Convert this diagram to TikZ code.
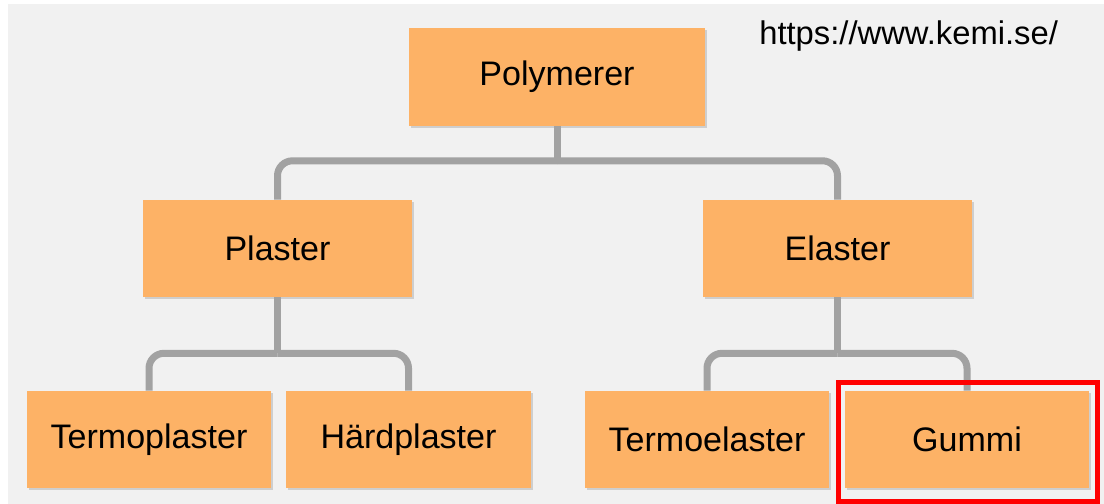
\documentclass[tikz,border=0pt]{standalone}
\usepackage{fontspec}
\setmainfont{Liberation Sans}
\usetikzlibrary{shadows, calc, positioning}
\definecolor{boxorange}{RGB}{253,178,102}
\definecolor{linkgrey}{RGB}{162,162,162}
\definecolor{panelgrey}{RGB}{241,241,241}
\tikzstyle{box} = [fill=boxorange, text=black, inner sep=0pt, minimum height=2.425cm,
  font=\fontsize{24.2}{28}\selectfont,
  drop shadow={shadow xshift=0.05cm, shadow yshift=-0.05cm, opacity=0.3}]
\tikzstyle{link} = [draw=linkgrey, line width=0.175cm, rounded corners=0.375cm]
\tikzstyle{marker} = [draw=red, line width=0.125cm]

\begin{document}
\begin{tikzpicture}[x=0.025cm, y=-0.025cm]
  % Background panel
  \useasboundingbox (0,0) rectangle (1104,504);
  \fill[panelgrey] (8,4) rectangle (1104,504);

  % Source address
  \node[anchor=base west, inner sep=0pt, font=\fontsize{23.3}{26}\selectfont] (url) at (759,45) {https://www.kemi.se/};

  % Draw the top box
  \node[box, minimum width=7.375cm] (poly) at (557,77) {Polymerer};

  % Draw the second level
  \node[box, minimum width=6.725cm] (plaster) at (277.5,248.5) {Plaster};
  \node[box, minimum width=6.725cm] (elaster) at (837.5,248.5) {Elaster};

  % Draw the bottom level
  \node[box, minimum width=6.1cm] (termopl) at (149,439.5) {Termoplaster};
  \node[box, minimum width=6.1cm] (hardpl) at (408.5,439.5) {Härdplaster};
  \node[box, minimum width=6.1cm] (termoel) at (707,439.5) {Termoelaster};
  \node[box, minimum width=6.1cm] (gummi) at (967,439.5) {Gummi};

  % Draw the links between the levels
  \path (poly.south) ++(0,35) coordinate (j1);
  \draw[link] (poly.south) -- (j1);
  \draw[link] (j1) -| (plaster.north);
  \draw[link] (j1) -| (elaster.north);

  \path (plaster.south) ++(0,56) coordinate (j2);
  \draw[link] (plaster.south) -- (j2);
  \draw[link] (j2) -| (termopl.north);
  \draw[link] (j2) -| (hardpl.north);

  \path (elaster.south) ++(0,56) coordinate (j3);
  \draw[link] (elaster.south) -- (j3);
  \draw[link] (j3) -| (termoel.north);
  \draw[link] (j3) -| (gummi.north);

  % Red frame round Gummi
  \draw[marker] ($(gummi.north west)+(-6,-8)$) rectangle ($(gummi.south east)+(8.5,13.5)$);
\end{tikzpicture}
\end{document}
